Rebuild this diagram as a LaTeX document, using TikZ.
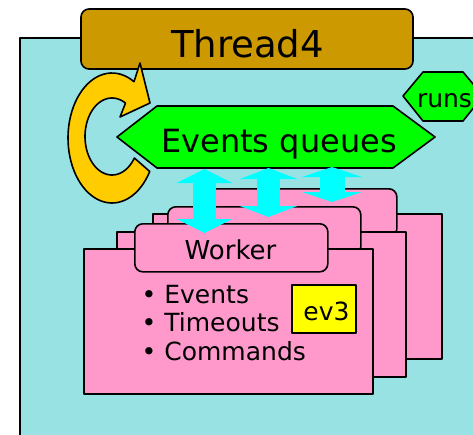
\documentclass[tikz,border=0pt]{standalone}
\usepackage{fontspec}
\setmainfont{DejaVu Sans}
\usetikzlibrary{arrows.meta}

\definecolor{bgcyan}{RGB}{153,226,228}
\definecolor{threadgold}{RGB}{204,153,0}
\definecolor{loopyellow}{RGB}{255,204,0}
\definecolor{workerpink}{RGB}{255,153,204}
\definecolor{queuegreen}{RGB}{0,255,0}
\definecolor{linkcyan}{RGB}{0,255,255}
\definecolor{evyellow}{RGB}{255,255,0}

\begin{document}
\begin{tikzpicture}[x=1pt,y=-1pt,line join=round,
  outline/.style={draw=black,line width=1.6pt},
  threadbox/.style={outline,fill=threadgold,rounded corners=8pt,
    minimum width=332pt,minimum height=60pt,inner sep=0pt},
  workerbody/.style={outline,fill=workerpink,anchor=north west,inner sep=0pt,
    minimum width=289pt,minimum height=145pt},
  workertab/.style={outline,fill=workerpink,anchor=north west,inner sep=0pt,
    rounded corners=8pt,minimum width=193pt,minimum height=48pt},
  label/.style={anchor=base,inner sep=0pt},
  qlink/.style={draw=linkcyan,line width=23pt,
    {Triangle[width=55pt,length=14pt]}-{Triangle[width=55pt,length=14pt]}},
  evbox/.style={outline,fill=evyellow,minimum width=64pt,minimum height=48pt,inner sep=0pt}]

\useasboundingbox (0,0) rectangle (473,434);

% thread area
\fill[bgcyan] (20,38) rectangle (480,440);
\draw[line width=2pt] (20,440) -- (20,38) -- (480,38);

% thread title
\node[threadbox] (thread) at (247,39) {};
\node[label,font=\fontsize{37}{44}\selectfont] (threadtxt) at (247.5,57) {Thread4};

% loop arrow
\draw[outline,fill=loopyellow]
  plot[domain=31:300,samples=60] ({112+44*cos(\x)},{138+65*sin(\x)})
  -- (140,63) -- (150,103) -- (120,117)
  -- plot[domain=300:34,samples=60] ({112+27*cos(\x)},{136.5+38.5*sin(\x)})
  -- cycle;

% events queues
\draw[outline,fill=queuegreen] (117,137) -- (157,106) -- (393,106) -- (435,137)
  -- (393,168) -- (157,168) -- cycle;
\node[label,font=\fontsize{32}{38}\selectfont] (queues) at (279,152) {Events queues};

% runs tag
\draw[outline,fill=queuegreen] (403,96) -- (423,72) -- (463,72) -- (483,96)
  -- (463,121) -- (423,121) -- cycle;
\node[label,font=\fontsize{25}{29}\selectfont] (runs) at (444.5,107) {runs};

% worker stack, back to front
\node[workerbody] (wb3) at (152,213) {};
\node[workertab]  (wt3) at (203,188) {};
\node[workerbody] (wb2) at (116,231) {};
\node[workertab]  (wt2) at (167,206) {};
\node[workerbody] (wb1) at (83,248) {};
\node[workertab]  (wt1) at (134,223) {};
\node[label,font=\fontsize{26}{30}\selectfont] (worker) at (230.5,259) {Worker};

\node[anchor=base west,inner sep=0pt,font=\fontsize{25}{29}\selectfont] (it1) at (141.5,303) {• Events};
\node[anchor=base west,inner sep=0pt,font=\fontsize{25}{29}\selectfont] (it2) at (141.5,331) {• Timeouts};
\node[anchor=base west,inner sep=0pt,font=\fontsize{25}{29}\selectfont] (it3) at (141.5,360) {• Commands};

\node[evbox] (ev) at (324,309) {};
\node[label,font=\fontsize{25}{29}\selectfont] (evtxt) at (326.5,320) {ev3};

% links between the queues and the workers
\coordinate (q1) at (204.5,169);
\coordinate (w1) at (204.5,233);
\coordinate (q2) at (268.5,168);
\coordinate (w2) at (268.5,217);
\coordinate (q3) at (332,167);
\coordinate (w3) at (332,202);
\draw[qlink] (q1) -- (w1);
\draw[qlink,line width=23pt,{Triangle[width=57pt,length=11pt]}-{Triangle[width=57pt,length=11pt]}] (q2) -- (w2);
\draw[qlink,line width=25pt,{Triangle[width=60pt,length=10pt]}-{Triangle[width=60pt,length=10pt]}] (q3) -- (w3);

\end{tikzpicture}
\end{document}
